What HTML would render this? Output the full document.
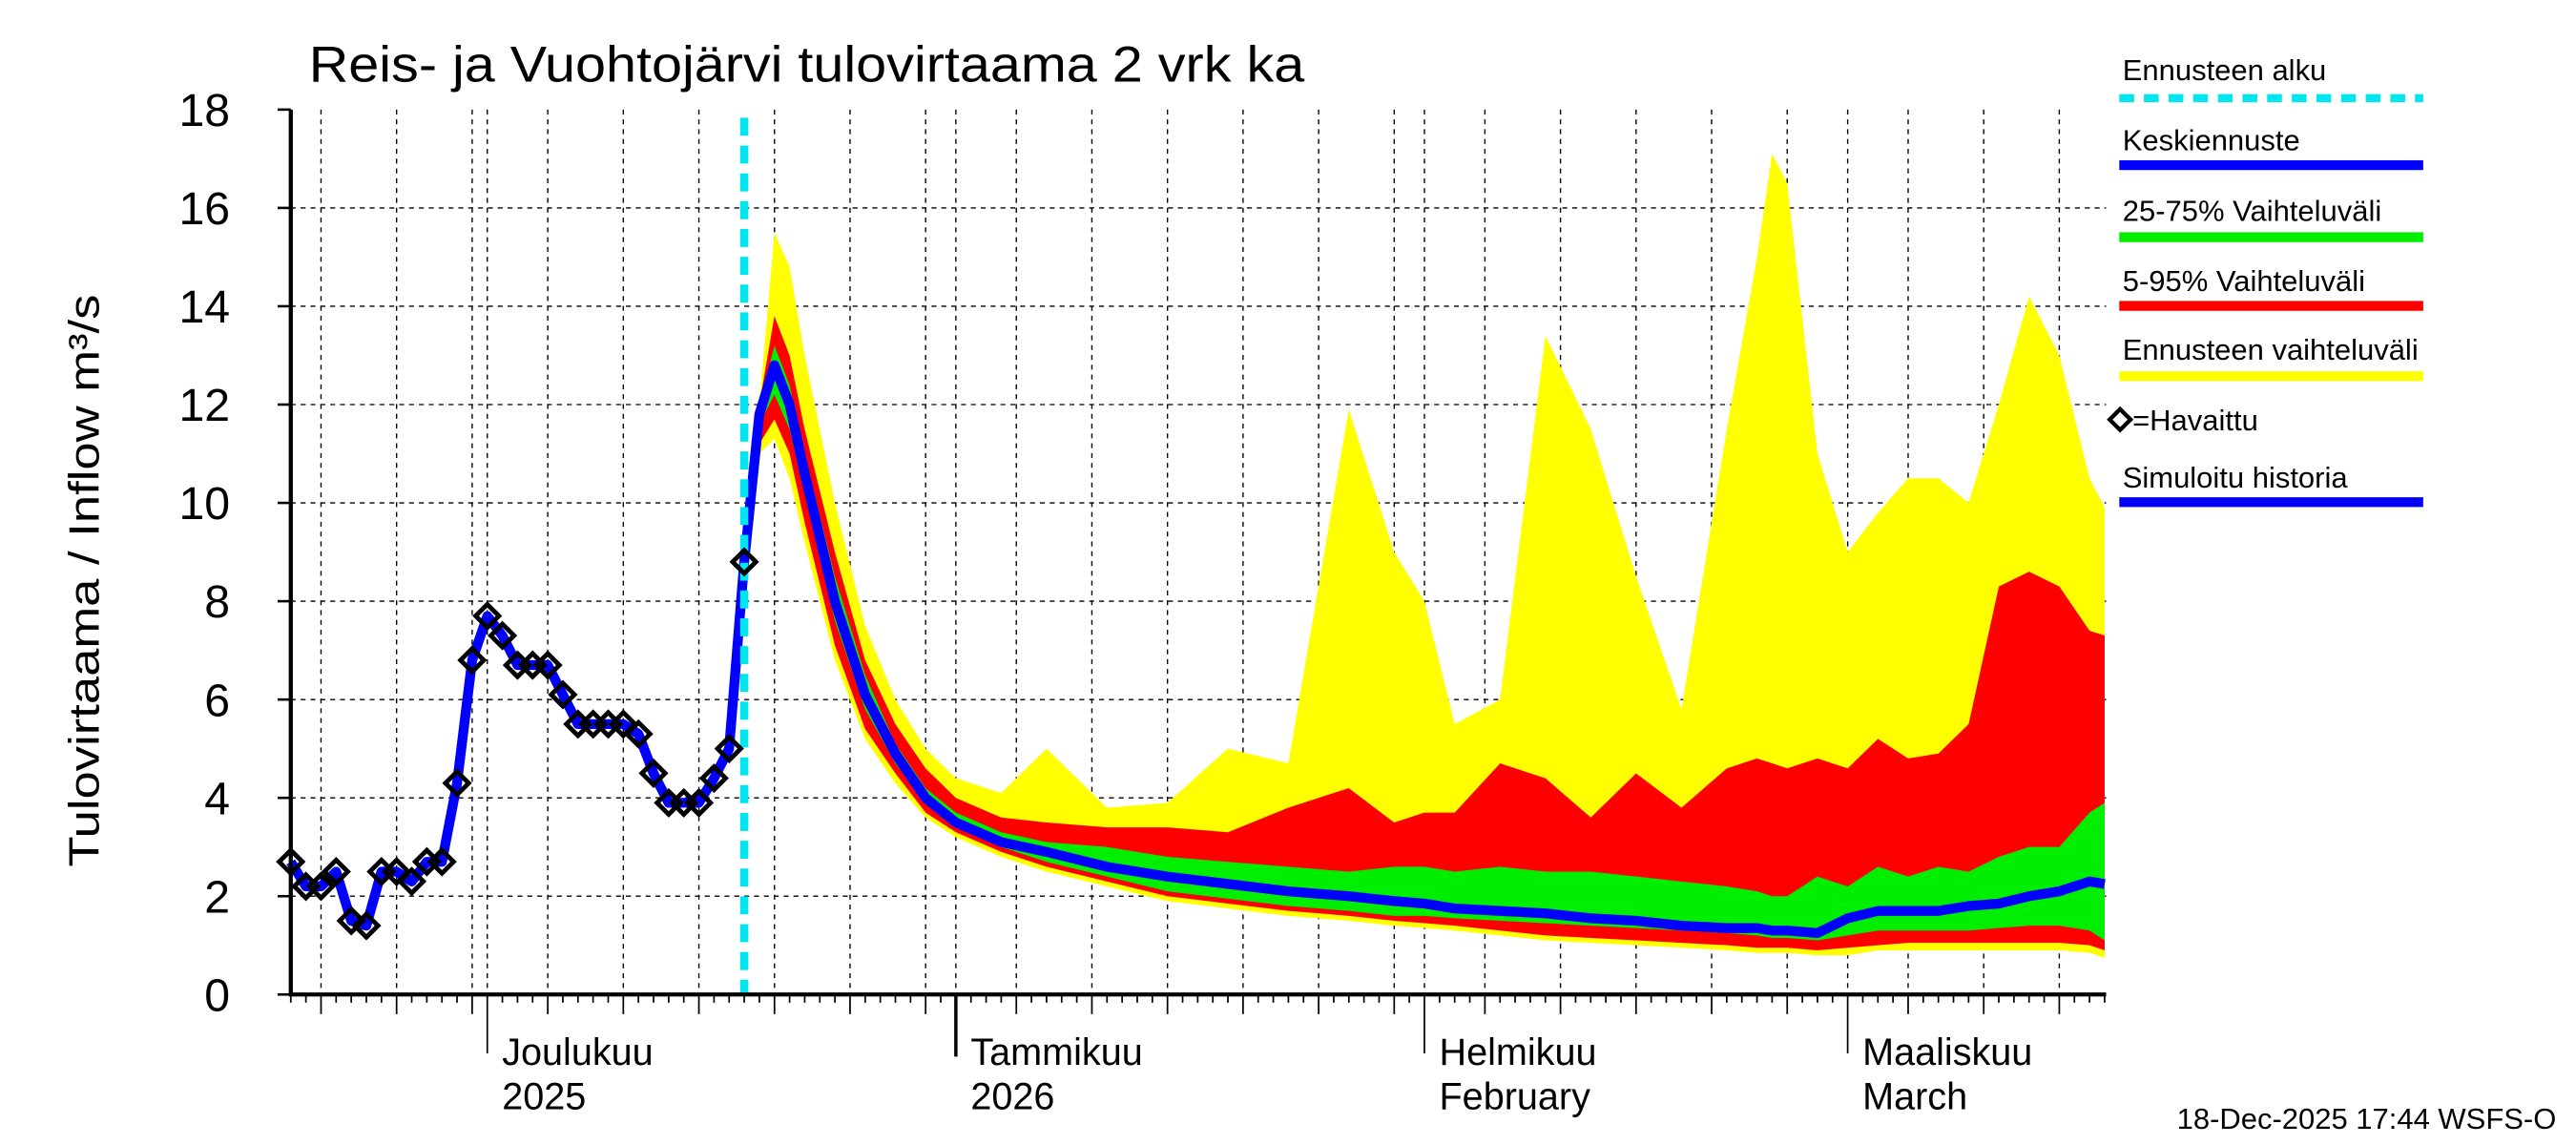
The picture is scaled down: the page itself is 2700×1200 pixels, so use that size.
<!DOCTYPE html>
<html><head><meta charset="utf-8"><style>
html,body{margin:0;padding:0;background:#fff}
svg{display:block}
text{font-family:"Liberation Sans",sans-serif}
</style></head><body>
<svg id="chart" width="2700" height="1200" viewBox="0 0 1568 700" preserveAspectRatio="none" xmlns="http://www.w3.org/2000/svg">
<rect x="0" y="0" width="1568" height="700" fill="#fff"/>
<g id="grid"></g>
<g id="bands"></g>
<g id="lines"></g>
<g id="axes"></g>
<text x="188" y="50" font-size="31" textLength="606" lengthAdjust="spacingAndGlyphs">Reis- ja Vuohtojärvi tulovirtaama  2 vrk ka</text>
<text transform="translate(60,355) rotate(-90)" text-anchor="middle" font-size="26" textLength="350" lengthAdjust="spacingAndGlyphs">Tulovirtaama / Inflow    m³/s</text>
<g font-size="18">
<text x="1292" y="49">Ennusteen alku</text>
<line x1="1290" y1="60" x2="1475" y2="60" stroke="#00e5ee" stroke-width="5" stroke-dasharray="9,6"/>
<text x="1292" y="92">Keskiennuste</text>
<line x1="1290" y1="101" x2="1475" y2="101" stroke="#0000ff" stroke-width="6"/>
<text x="1292" y="135">25-75% Vaihteluväli</text>
<line x1="1290" y1="145" x2="1475" y2="145" stroke="#00ee00" stroke-width="6"/>
<text x="1292" y="178">5-95% Vaihteluväli</text>
<line x1="1290" y1="187" x2="1475" y2="187" stroke="#ff0000" stroke-width="6"/>
<text x="1292" y="220">Ennusteen vaihteluväli</text>
<line x1="1290" y1="230" x2="1475" y2="230" stroke="#ffff00" stroke-width="6"/>
<rect x="1286" y="252" width="9" height="9" transform="rotate(45 1290.5 256.5)" fill="#fff" stroke="#000" stroke-width="2.5"/>
<text x="1298" y="263">=Havaittu</text>
<text x="1292" y="298">Simuloitu historia</text>
<line x1="1290" y1="307" x2="1475" y2="307" stroke="#0000ff" stroke-width="6"/>
</g>
<text x="1556" y="690" text-anchor="end" font-size="18">18-Dec-2025 17:44 WSFS-O</text>
</svg>
<script>
// observed (daily from Nov 18, 2025; day index 0..30)
const obsValues = [2.7,2.2,2.2,2.5,1.5,1.4,2.5,2.5,2.3,2.7,2.7,4.3,6.8,7.7,7.3,6.7,6.7,6.7,6.1,5.5,5.5,5.5,5.5,5.3,4.5,3.9,3.9,3.9,4.4,5.0,8.8];
// forecast day offsets from Nov 18
const fcDays = [30,31,32,33,34,36,38,40,42,44,47,50,54,58,62,66,70,73,75,77,80,83,86,89,92,95,97,98,99,101,103,105,107,109,111,113,115,117,119,120];
const yellowHi = [8.8,12,15.5,14.8,13,10,7.5,6,5,4.4,4.1,5.0,3.8,3.9,5.0,4.7,11.9,9,8,5.5,6,13.4,11.5,8.5,5.8,11.5,15,17.1,16.5,11,9,9.8,10.5,10.5,10,12,14.2,13,10.5,9.9];
const yellowLo = [8.8,11,11.3,10.5,9.2,6.8,5.2,4.3,3.6,3.2,2.8,2.5,2.2,1.9,1.75,1.6,1.5,1.4,1.35,1.3,1.2,1.1,1.05,1.0,0.95,0.9,0.85,0.85,0.85,0.8,0.8,0.9,0.9,0.9,0.9,0.9,0.9,0.9,0.85,0.75];
const redHi = [8.8,12,13.8,13,11.5,9,6.8,5.5,4.6,4.0,3.6,3.5,3.4,3.4,3.3,3.8,4.2,3.5,3.7,3.7,4.7,4.4,3.6,4.5,3.8,4.6,4.8,4.7,4.6,4.8,4.6,5.2,4.8,4.9,5.5,8.3,8.6,8.3,7.4,7.3];
const redLo = [8.8,11.2,11.7,11,9.6,7.1,5.4,4.5,3.7,3.3,2.9,2.6,2.3,2.0,1.85,1.7,1.6,1.5,1.45,1.4,1.3,1.2,1.15,1.1,1.05,1.0,0.95,0.95,0.95,0.9,0.95,1.0,1.05,1.05,1.05,1.05,1.05,1.05,1.0,0.9];
const greenHi = [8.8,12,13.2,12.4,11,8.5,6.5,5.1,4.2,3.7,3.3,3.1,3.0,2.8,2.7,2.6,2.5,2.6,2.6,2.5,2.6,2.5,2.5,2.4,2.3,2.2,2.1,2.0,2.0,2.4,2.2,2.6,2.4,2.6,2.5,2.8,3.0,3.0,3.7,3.9];
const greenLo = [8.8,11.6,12.2,11.5,10.2,7.6,5.8,4.7,3.9,3.4,3.0,2.7,2.4,2.1,1.95,1.8,1.7,1.6,1.6,1.55,1.5,1.45,1.4,1.35,1.3,1.25,1.2,1.15,1.15,1.1,1.2,1.3,1.3,1.3,1.3,1.35,1.4,1.4,1.3,1.1];
const median = [8.8,11.8,12.8,12,10.6,8,6.1,4.9,4.0,3.5,3.1,2.9,2.6,2.4,2.25,2.1,2.0,1.9,1.85,1.75,1.7,1.65,1.55,1.5,1.4,1.35,1.35,1.3,1.3,1.25,1.55,1.7,1.7,1.7,1.8,1.85,2.0,2.1,2.3,2.25];
const yTicks = [0,2,4,6,8,10,12,14,16,18];
const forecastStartDay = 30;
const monthLabels = [["Joulukuu","2025"],["Tammikuu","2026"],["Helmikuu","February"],["Maaliskuu","March"]];

const NS="http://www.w3.org/2000/svg";
const X0=177,X1=1282,Y0=608,Y1=67,DAYS=120.1;
const xs=d=>X0+(d/DAYS)*(X1-X0);
const ys=v=>Y0-(v/18)*(Y0-Y1);
function mk(tag,attrs,parent){const e=document.createElementNS(NS,tag);for(const k in attrs)e.setAttribute(k,attrs[k]);parent.appendChild(e);return e;}
const grid=document.getElementById('grid'),bands=document.getElementById('bands'),lines=document.getElementById('lines'),axes=document.getElementById('axes');

const start=new Date(Date.UTC(2025,10,18));
const monthStarts=[];
for(let d=0;d<=120;d++){
  const dt=new Date(start.getTime()+d*86400000);const dm=dt.getUTCDate();
  const x=xs(d);
  let tl=5;
  if(dm===1){monthStarts.push(d);tl=0;}
  else if(dm%5===0){tl=12;
    const g=mk('line',{x1:x,y1:Y1,x2:x,y2:Y0,stroke:'#000','stroke-width':0.8,'stroke-dasharray':'3,3'},grid);
    
    
  }
  if(tl){const t=mk('line',{x1:x,y1:Y0,x2:x,y2:Y0+tl,stroke:'#000','stroke-width':1},axes);
    
    }
}
monthStarts.forEach((d,i)=>{
  const x=xs(d);
  const g=mk('line',{x1:x,y1:Y1,x2:x,y2:Y0,stroke:'#000','stroke-width':0.8,'stroke-dasharray':'3,3'},grid);
  
  
  const big=(i===1);
  const t=mk('line',{x1:x,y1:Y0,x2:x,y2:Y0+(big?38:36),stroke:'#000','stroke-width':big?2:1},axes);
  
  
  const lab=monthLabels[i];
  const t1=mk('text',{x:x+9,y:651,'font-size':23},axes);t1.textContent=lab[0];
  
  
  const t2=mk('text',{x:x+9,y:678,'font-size':23},axes);t2.textContent=lab[1];
  
  
});
yTicks.forEach(v=>{
  const y=ys(v);
  if(v>0&&v<18){const g=mk('line',{x1:X0,y1:y,x2:X1,y2:y,stroke:'#000','stroke-width':0.8,'stroke-dasharray':'3,3'},grid);
    
    }
  const t=mk('line',{x1:X0-8,y1:y,x2:X0,y2:y,stroke:'#000','stroke-width':1.5},axes);
  
  
  const l=mk('text',{x:X0-37,y:y+10,'font-size':28,'text-anchor':'end'},axes);l.textContent=v;
  
  
});

function band(hi,lo,color,name){
  let p='';
  fcDays.forEach((d,i)=>{p+=(i?'L':'M')+xs(d).toFixed(1)+','+ys(hi[i]).toFixed(1);});
  for(let i=fcDays.length-1;i>=0;i--)p+='L'+xs(fcDays[i]).toFixed(1)+','+ys(lo[i]).toFixed(1);
  const e=mk('path',{d:p+'Z',fill:color},bands);
  
  
}
band(yellowHi,yellowLo,'#ffff00','yellow-band');
band(redHi,redLo,'#ff0000','red-band');
band(greenHi,greenLo,'#00ee00','green-band');

function poly(days,vals,name){
  const pts=days.map((d,i)=>xs(d).toFixed(1)+','+ys(vals[i]).toFixed(1)).join(' ');
  const e=mk('polyline',{points:pts,fill:'none',stroke:'#0000ff','stroke-width':6,'stroke-linejoin':'round'},lines);
  
  
}
poly(obsValues.map((v,i)=>i),obsValues,'simulated-history-line');
poly(fcDays,median,'median-forecast-line');

const fx=xs(forecastStartDay);
const fl=mk('line',{x1:fx,y1:Y1+5,x2:fx,y2:Y0,stroke:'#00e5ee','stroke-width':5,'stroke-dasharray':'11,6'},lines);



obsValues.forEach((v,i)=>{
  const x=xs(i),y=ys(v);
  const r=mk('rect',{x:x-5,y:y-5,width:10,height:10,fill:'none',stroke:'#000','stroke-width':2.8,transform:`rotate(45 ${x} ${y})`},lines);
  
  
});

const ax=mk('path',{d:`M${X0},${Y1}L${X0},${Y0}L${X1},${Y0}`,fill:'none',stroke:'#000','stroke-width':2.5},axes);


</script>
</body></html>
